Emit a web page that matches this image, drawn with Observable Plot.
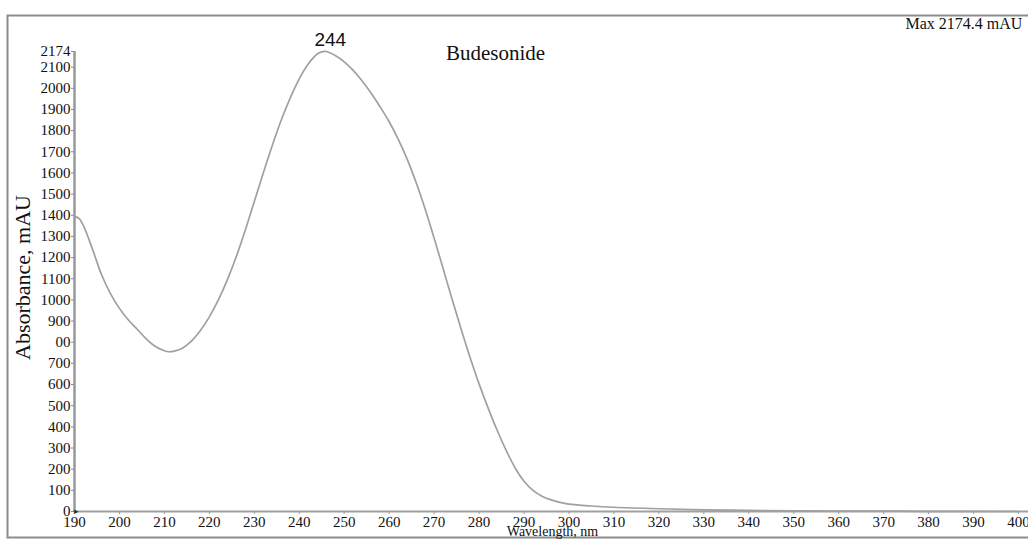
<!DOCTYPE html>
<html><head><meta charset="utf-8">
<script src="https://cdn.jsdelivr.net/npm/d3@7"></script>
<script src="https://cdn.jsdelivr.net/npm/@observablehq/plot@0.6"></script>
<style>body{margin:0;background:#fff;overflow:hidden} svg{display:block}</style>
</head><body><div id="chart"></div>
<script>
const wavelengths = [190,191,192,194,196,198,200,202,204,206,208,210,211,212,214,216,218,220,222,224,226,228,230,232,234,236,238,240,242,244,245,246,248,250,252,254,256,258,260,262,264,266,268,270,272,274,276,278,280,282,284,286,288,290,292,294,296,298,300,305,310,320,330,340,350,360,380,400];
const absorbance  = [1395,1385,1350,1240,1120,1030,960,905,860,815,780,760,755,757,772,805,855,920,1000,1095,1205,1330,1465,1600,1730,1850,1955,2045,2115,2162,2172,2174,2155,2125,2085,2035,1977,1912,1842,1760,1665,1555,1430,1292,1148,1003,862,728,603,490,385,290,207,143,100,72,55,43,35,26,20,13,8,5,3,2,1,0];
const xTicks = [190,200,210,220,230,240,250,260,270,280,290,300,310,320,330,340,350,360,370,380,390,400];
const yTicks = [0,100,200,300,400,500,600,700,800,900,1000,1100,1200,1300,1400,1500,1600,1700,1800,1900,2000,2100,2174];
const yTickLabels = ["0","100","200","300","400","500","600","700","00","900","1000","1100","1200","1300","1400","1500","1600","1700","1800","1900","2000","2100","2174"];
const peakLabel = "244";
const sampleName = "Budesonide";
const maxLabel = "Max 2174.4 mAU";
const xTitle = "Wavelength, nm";
const yTitle = "Absorbance, mAU";

const data = wavelengths.map((w, i) => ({w, a: absorbance[i]}));
const peak = data.reduce((m, d) => d.a > m.a ? d : m, data[0]);
const serif = "'Liberation Serif', 'Times New Roman', serif";

const chart = Plot.plot({
  width: 1028, height: 540,
  marginLeft: 74, marginRight: 10, marginTop: 51, marginBottom: 29,
  style: {fontFamily: serif, background: "#fff", color: "#111", overflow: "visible"},
  x: {domain: [190, 400]},
  y: {domain: [0, 2174]},
  marks: [
    Plot.frame({stroke: "#8c8c8c", strokeWidth: 2, insetLeft: -67, insetTop: -36, insetRight: -15, insetBottom: -26}),
    Plot.axisY({ticks: yTicks, tickFormat: d => yTickLabels[yTicks.indexOf(d)], tickSize: 3, tickPadding: 1, fontSize: 15, label: null, stroke: "#888"}),
    Plot.axisX({ticks: xTicks, tickSize: 3, tickPadding: 2, fontSize: 15, label: null, stroke: "#999"}),
    Plot.ruleX([190], {y1: 0, y2: 2174, stroke: "#999", strokeWidth: 2.5}),
    Plot.ruleY([0], {x1: 190, x2: 403, stroke: "#a0a0a0", strokeWidth: 2}),
    Plot.line(data, {x: "w", y: "a", stroke: "#a0a0a0", strokeWidth: 1.7, curve: "catmull-rom"}),
    Plot.text(["▸"], {x: 190, y: 0, dx: 2, fontSize: 9, fill: "#333"}),
    Plot.text([peak], {x: "w", y: "a", text: () => peakLabel, dx: 4, dy: -12, fontSize: 19, fontFamily: "'Liberation Sans', Arial, sans-serif", fill: "#111"}),
    Plot.text([sampleName], {frameAnchor: "top-left", dx: 421, dy: 2, fontSize: 21, textAnchor: "middle", lineAnchor: "middle", fill: "#111"}),
    Plot.text([maxLabel], {frameAnchor: "top-right", dx: -113, dy: -28, fontSize: 16, textAnchor: "start", lineAnchor: "middle", fill: "#111"}),
    Plot.text([xTitle], {frameAnchor: "bottom-left", dx: 478, dy: 20, fontSize: 14, textAnchor: "middle", lineAnchor: "middle", fill: "#111"}),
    Plot.text([yTitle], {frameAnchor: "left", dx: -52, dy: -4, rotate: -90, fontSize: 22, textAnchor: "middle", lineAnchor: "middle", fill: "#111"})
  ]
});
document.getElementById("chart").append(chart);
</script>
</body></html>
